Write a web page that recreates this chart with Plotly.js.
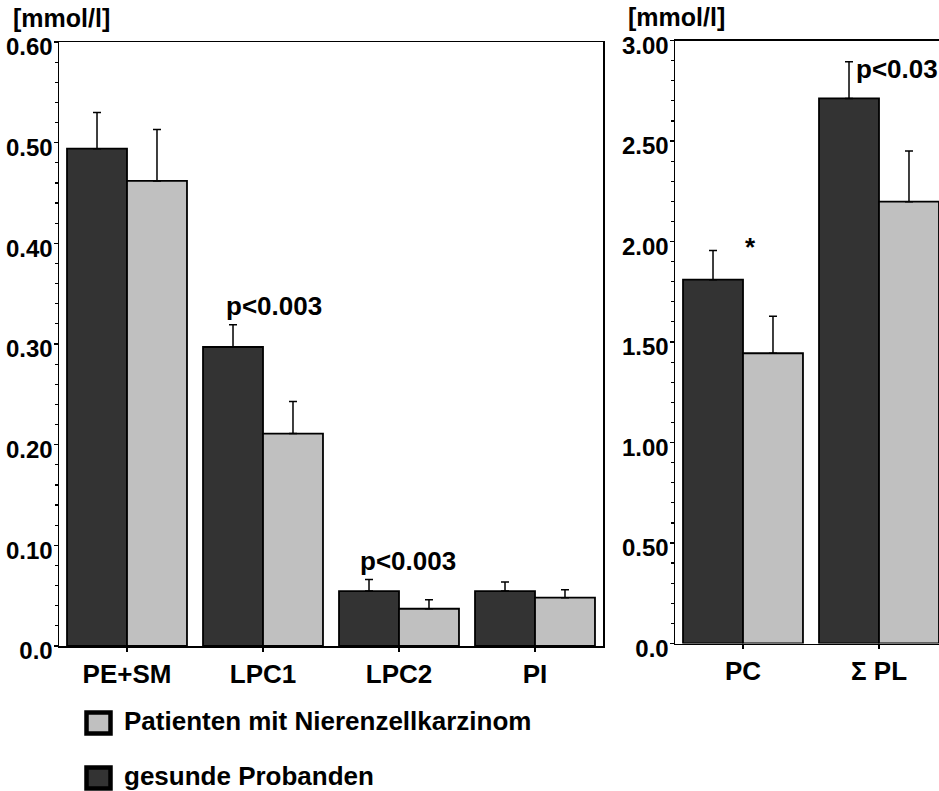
<!DOCTYPE html>
<html>
<head>
<meta charset="utf-8">
<script src="https://cdn.plot.ly/plotly-3.0.1.min.js"></script>
<style>
  html, body { margin: 0; padding: 0; background: #fff; overflow: hidden; }
  #chart { width: 939px; height: 791px; }
</style>
</head>
<body>
<div id="chart"></div>
<script>
// ---- data ----
const categoriesLeft = ['PE+SM', 'LPC1', 'LPC2', 'PI'];
const healthyLeft = [0.494, 0.297, 0.0546, 0.0546];
const healthyLeftErr = [0.036, 0.022, 0.0114, 0.0091];
const patientsLeft = [0.462, 0.211, 0.037, 0.048];
const patientsLeftErr = [0.051, 0.032, 0.009, 0.008];

const categoriesRight = ['PC', 'Σ PL'];
const healthyRight = [1.81, 2.712];
const healthyRightErr = [0.145, 0.182];
const patientsRight = [1.444, 2.198];
const patientsRightErr = [0.184, 0.252];

const seriesNames = ['Patienten mit Nierenzellkarzinom', 'gesunde Probanden'];
const unitLabel = '[mmol/l]';
const tickValsLeft = [0, 0.1, 0.2, 0.3, 0.4, 0.5, 0.6];
const tickTextLeft = ['0.0', '0.10', '0.20', '0.30', '0.40', '0.50', '0.60'];
const tickValsRight = [0, 0.5, 1.0, 1.5, 2.0, 2.5, 3.0];
const tickTextRight = ['0.0', '0.50', '1.00', '1.50', '2.00', '2.50', '3.00'];

// ---- styles ----
const W = 939, H = 791;
const px = x => x / W;
const py = y => 1 - y / H;
const FONT = 'Liberation Sans, Arial, sans-serif';
const darkColor = '#333333';
const lightColor = '#c0c0c0';

function barTrace(x, y, err, color, name, xa, ya) {
  return {
    type: 'bar', x: x, y: y, name: name, xaxis: xa, yaxis: ya,
    marker: { color: color, line: { color: '#000', width: 1.8 } },
    error_y: { type: 'data', array: err, arrayminus: err.map(() => 0), symmetric: false,
               color: '#000', thickness: 1.5, width: 4 },
    showlegend: false, hoverinfo: 'skip'
  };
}

const data = [
  barTrace(categoriesLeft, healthyLeft, healthyLeftErr, darkColor, seriesNames[1], 'x', 'y'),
  barTrace(categoriesLeft, patientsLeft, patientsLeftErr, lightColor, seriesNames[0], 'x', 'y'),
  barTrace(categoriesRight, healthyRight, healthyRightErr, darkColor, seriesNames[1], 'x2', 'y2'),
  barTrace(categoriesRight, patientsRight, patientsRightErr, lightColor, seriesNames[0], 'x2', 'y2')
];

const tickFont = { family: FONT, size: 24, color: '#000', weight: 'bold' };
const catFont = { family: FONT, size: 26, color: '#000', weight: 'bold' };
const annFont = { family: FONT, size: 26, color: '#000', weight: 'bold' };

const xCommon = {
  type: 'category', showgrid: false, zeroline: false,
  showline: true, linecolor: '#000', linewidth: 1.5,
  ticks: 'outside', ticklen: 4, tickwidth: 1.2, tickcolor: '#000',
  tickfont: catFont, ticklabelstandoff: 0, fixedrange: true
};
const yCommon = {
  showgrid: false, zeroline: false,
  showline: true, linecolor: '#000', linewidth: 1.5,
  ticks: 'outside', ticklen: 4, tickwidth: 1.2, tickcolor: '#000',
  tickfont: tickFont, tickmode: 'array', fixedrange: true,
  ticklabelstandoff: -4, ticklabelshift: 5
};

const layout = {
  width: W, height: H,
  margin: { l: 0, r: 0, t: 0, b: 0 },
  paper_bgcolor: '#fff', plot_bgcolor: '#fff',
  barmode: 'group', bargap: 0.118, bargroupgap: 0,
  showlegend: false,
  font: { family: FONT, color: '#000' },
  xaxis: Object.assign({}, xCommon, {
    domain: [px(59), px(603)], range: [-0.5, 3.5], anchor: 'y', mirror: true
  }),
  yaxis: Object.assign({}, yCommon, {
    domain: [py(646), py(42)], range: [0, 0.6], anchor: 'x', mirror: true,
    tickvals: tickValsLeft, ticktext: tickTextLeft,
    minor: { dtick: 0.02, ticks: 'outside', ticklen: 3, tickwidth: 1.2, tickcolor: '#000', showgrid: false }
  }),
  xaxis2: Object.assign({}, xCommon, {
    domain: [px(675), 1], range: [-0.5, 1.4412], anchor: 'y2', mirror: true
  }),
  yaxis2: Object.assign({}, yCommon, {
    domain: [py(643.5), py(40.5)], range: [0, 3], anchor: 'x2',
    tickvals: tickValsRight, ticktext: tickTextRight,
    minor: { dtick: 0.1, ticks: 'outside', ticklen: 3, tickwidth: 1.2, tickcolor: '#000', showgrid: false }
  }),
  annotations: [
    { text: unitLabel, xref: 'paper', yref: 'paper', x: px(11), y: py(18), xanchor: 'left', yanchor: 'middle',
      showarrow: false, font: { family: FONT, size: 25, color: '#000', weight: 'bold' } },
    { text: unitLabel, xref: 'paper', yref: 'paper', x: px(626), y: py(17), xanchor: 'left', yanchor: 'middle',
      showarrow: false, font: { family: FONT, size: 25, color: '#000', weight: 'bold' } },
    { text: 'p<0.003', xref: 'x', yref: 'y', x: 'LPC1', y: 0.338, xshift: 11, xanchor: 'center', yanchor: 'middle',
      showarrow: false, font: annFont },
    { text: 'p<0.003', xref: 'x', yref: 'y', x: 'LPC2', y: 0.084, xshift: 9, xanchor: 'center', yanchor: 'middle',
      showarrow: false, font: annFont },
    { text: '*', xref: 'paper', yref: 'y2', x: px(750), y: 1.975, xanchor: 'center', yanchor: 'middle',
      showarrow: false, font: annFont },
    { text: 'p<0.03', xref: 'paper', yref: 'y2', x: px(854), y: 2.86, xanchor: 'left', yanchor: 'middle',
      showarrow: false, font: annFont },
    { text: seriesNames[0], xref: 'paper', yref: 'paper', x: px(122), y: py(721), xanchor: 'left', yanchor: 'middle',
      showarrow: false, font: annFont },
    { text: seriesNames[1], xref: 'paper', yref: 'paper', x: px(122), y: py(776), xanchor: 'left', yanchor: 'middle',
      showarrow: false, font: annFont }
  ],
  shapes: [
    { type: 'rect', xref: 'paper', yref: 'paper', x0: px(86.5), x1: px(110.5), y0: py(712.5), y1: py(733.5),
      fillcolor: lightColor, line: { color: '#000', width: 4.5 } },
    { type: 'rect', xref: 'paper', yref: 'paper', x0: px(86.5), x1: px(110.5), y0: py(767.5), y1: py(788.5),
      fillcolor: darkColor, line: { color: '#000', width: 4.5 } }
  ]
};

Plotly.newPlot('chart', data, layout, { displayModeBar: false, staticPlot: true });
</script>
</body>
</html>
